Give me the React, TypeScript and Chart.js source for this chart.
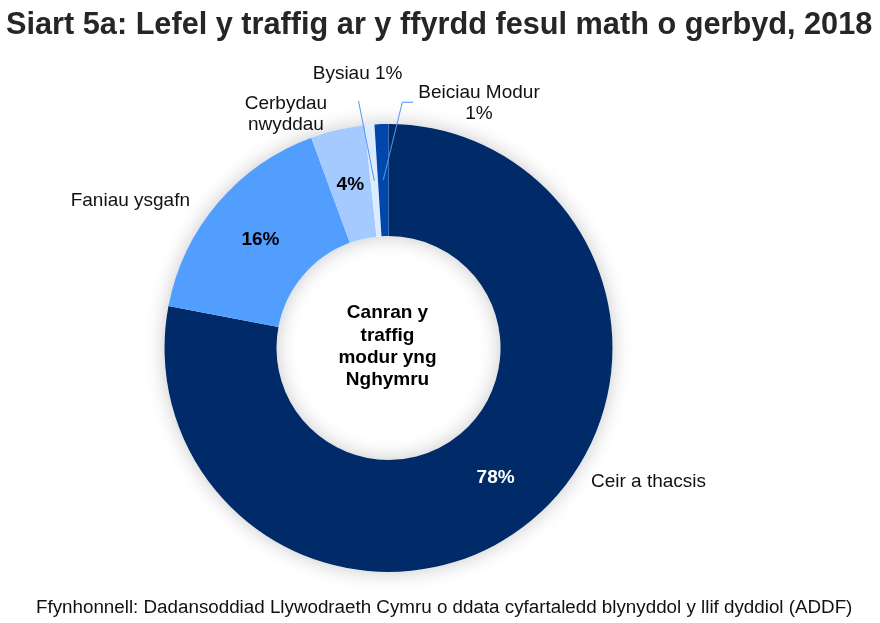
import { useEffect, useRef } from "react";
import { Chart, registerables } from "chart.js";

Chart.register(...registerables);

const FONT = '"Liberation Sans", Arial, sans-serif';

const TITLE = "Siart 5a: Lefel y traffig ar y ffyrdd fesul math o gerbyd, 2018";
const SOURCE =
  "Ffynhonnell: Dadansoddiad Llywodraeth Cymru o ddata cyfartaledd blynyddol y llif dyddiol (ADDF)";
const CENTER_TEXT = ["Canran y", "traffig", "modur yng", "Nghymru"];

// data
const categories = ["Ceir a thacsis", "Faniau ysgafn", "Cerbydau nwyddau", "Bysiau", "Beiciau Modur"];
const shares = [78.0, 16.4, 3.9, 0.7, 1.0];
const sliceColors = ["#002B68", "#529EFF", "#A5CAFF", "#DDEBFF", "#0047AB"];

// label layout: fx/fy are fractions of the outer radius from the doughnut centre
type Placement = {
  name: string[];
  fx: number;
  fy: number;
  align: CanvasTextAlign;
  pct: "inside" | "inline" | "below" | "none";
  pctColor?: string;
  leader?: [number, number][];
};

const placements: Placement[] = [
  { name: ["Ceir a thacsis"], fx: 0.904, fy: 0.619, align: "left", pct: "inside", pctColor: "#ffffff" },
  { name: ["Faniau ysgafn"], fx: -0.886, fy: -0.635, align: "right", pct: "inside", pctColor: "#000000" },
  { name: ["Cerbydau", "nwyddau"], fx: -0.458, fy: -1.067, align: "center", pct: "inside", pctColor: "#000000" },
  { name: ["Bysiau"], fx: -0.138, fy: -1.2, align: "center", pct: "inline", leader: [[-0.134, -1.104]] },
  {
    name: ["Beiciau Modur"],
    fx: 0.404,
    fy: -1.115,
    align: "center",
    pct: "below",
    leader: [
      [0.0616, -1.097],
      [0.1107, -1.097],
    ],
  },
];

const LINE_H = 21;

const decorPlugin = {
  id: "decor",
  beforeDatasetsDraw(chart: Chart) {
    const arc: any = chart.getDatasetMeta(0).data[0];
    if (!arc) return;
    const { x, y, innerRadius, outerRadius } = arc.getProps(["x", "y", "innerRadius", "outerRadius"], true);
    const ctx = chart.ctx;
    ctx.save();
    ctx.shadowColor = "rgba(0,0,0,0.22)";
    ctx.shadowBlur = 20;
    ctx.fillStyle = "#ffffff";
    ctx.beginPath();
    ctx.arc(x, y, outerRadius, 0, Math.PI * 2);
    ctx.arc(x, y, innerRadius, 0, Math.PI * 2, true);
    ctx.fill();
    ctx.restore();
  },
  afterDraw(chart: Chart) {
    const ctx = chart.ctx;
    const meta = chart.getDatasetMeta(0);
    ctx.save();

    // title and source
    ctx.textBaseline = "alphabetic";
    ctx.textAlign = "left";
    ctx.fillStyle = "#262626";
    ctx.font = `bold 30.7px ${FONT}`;
    ctx.fillText(TITLE, 6, 33.5);
    ctx.fillStyle = "#111111";
    ctx.font = `18.8px ${FONT}`;
    ctx.fillText(SOURCE, 36, 613.3);

    meta.data.forEach((el: any, i: number) => {
      const { x, y, startAngle, endAngle, innerRadius, outerRadius } = el.getProps(
        ["x", "y", "startAngle", "endAngle", "innerRadius", "outerRadius"],
        true
      );
      const p = placements[i];
      const mid = (startAngle + endAngle) / 2;
      const rMid = (innerRadius + outerRadius) / 2;
      const pctText = `${Math.round(shares[i])}%`;

      if (i === 0) {
        // centre text
        ctx.fillStyle = "#000000";
        ctx.font = `bold 19px ${FONT}`;
        ctx.textAlign = "center";
        ctx.textBaseline = "alphabetic";
        const lh = 22.3;
        CENTER_TEXT.forEach((line, k) => {
          ctx.fillText(line, x - 1, y - 29.7 + k * lh);
        });
      }

      if (p.pct === "inside") {
        ctx.fillStyle = p.pctColor || "#000";
        ctx.font = `bold 19px ${FONT}`;
        ctx.textAlign = "center";
        ctx.textBaseline = "middle";
        ctx.fillText(pctText, x + Math.cos(mid) * rMid, y + Math.sin(mid) * rMid);
      }

      if (p.leader) {
        ctx.strokeStyle = "#4F97F5";
        ctx.lineWidth = 1;
        ctx.beginPath();
        ctx.moveTo(x + Math.cos(mid) * rMid, y + Math.sin(mid) * rMid);
        p.leader.forEach(([fx, fy]) => ctx.lineTo(x + fx * outerRadius, y + fy * outerRadius));
        ctx.stroke();
      }

      ctx.fillStyle = "#111111";
      ctx.font = `19px ${FONT}`;
      ctx.textAlign = p.align;
      ctx.textBaseline = "alphabetic";
      const lx = x + p.fx * outerRadius;
      const ly = y + p.fy * outerRadius;
      const lines = [...p.name];
      if (p.pct === "inline") lines[lines.length - 1] += ` ${pctText}`;
      if (p.pct === "below") lines.push(pctText);
      lines.forEach((line, k) => ctx.fillText(line, lx, ly + k * LINE_H));
    });

    ctx.restore();
  },
};

export default function App() {
  const chartRef = useRef<HTMLCanvasElement>(null);
  const chartInstanceRef = useRef<Chart | null>(null);

  useEffect(() => {
    document.body.style.margin = "0";
    if (!chartRef.current) return;
    if (chartInstanceRef.current) chartInstanceRef.current.destroy();

    chartInstanceRef.current = new Chart(chartRef.current, {
      type: "doughnut",
      data: {
        labels: categories,
        datasets: [
          {
            data: shares,
            backgroundColor: sliceColors,
            borderWidth: 0,
            hoverOffset: 0,
          },
        ],
      },
      options: {
        responsive: true,
        maintainAspectRatio: false,
        animation: false,
        cutout: "50%",
        layout: { padding: { left: 164.5, right: 267.5, top: 124, bottom: 51 } },
        plugins: {
          legend: { display: false },
          tooltip: { enabled: false },
        },
      },
      plugins: [decorPlugin],
    });

    return () => {
      if (chartInstanceRef.current) {
        chartInstanceRef.current.destroy();
        chartInstanceRef.current = null;
      }
    };
  }, []);

  return (
    <div style={{ position: "relative", width: 880, height: 623, background: "#fff" }}>
      <canvas ref={chartRef} />
    </div>
  );
}
